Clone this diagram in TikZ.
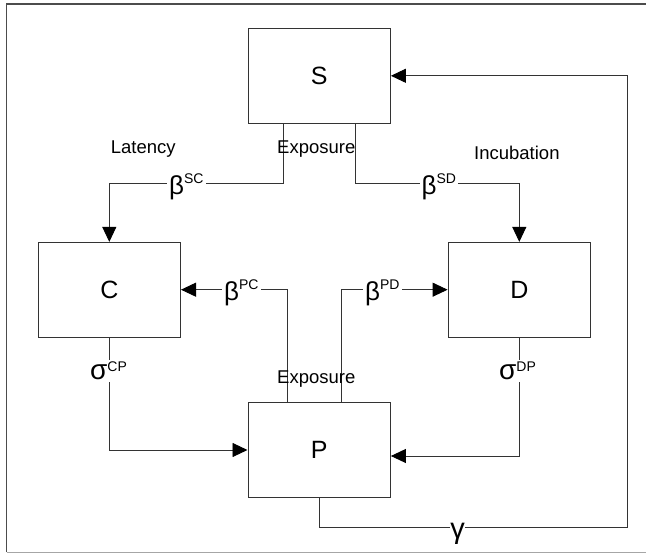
\documentclass[tikz,border=0pt]{standalone}
\usepackage{fontspec}
\setmainfont{Liberation Sans}
\usetikzlibrary{arrows.meta}
\newcommand{\bsup}[1]{{\fontsize{26}{26}\selectfont β}\raisebox{11pt}{\fontsize{14}{14}\selectfont #1}}
\newcommand{\ssup}[1]{{\fontsize{28}{28}\selectfont σ}\raisebox{7.6pt}{\fontsize{14}{14}\selectfont #1}}
\tikzset{
  comp/.style={draw=black!80, line width=0.9pt, minimum width=142.5pt, minimum height=94.7pt, inner sep=0pt, font=\fontsize{25}{25}\selectfont},
  link/.style={draw=black!80, line width=0.9pt},
  arr/.style={link, -{Triangle[length=15pt,width=14pt,color=black]}},
  rate/.style={fill=white, inner sep=2pt, anchor=base west},
  caption/.style={inner sep=0pt, anchor=base west, font=\fontsize{18.5}{18.5}\selectfont}
}
\begin{document}
\begin{tikzpicture}[x=1pt,y=-1pt]
\useasboundingbox (0,0) rectangle (646,553);
\fill[white] (0,0) rectangle (646,553);
% frame
\coordinate (fa) at (6.5,552);
\coordinate (fb) at (6.5,4);
\coordinate (fc) at (650,4);
\coordinate (fd) at (650,552);
\draw[black!70, line width=1.3pt] (fa) -- (fb) -- (fc);
\draw[black!35, line width=1pt] (fa) -- (fd);
% compartments
\node[comp] (S) at (319.2,75.8) {S};
\node[comp] (C) at (109.3,289.7) {C};
\node[comp] (D) at (519.3,289.7) {D};
\node[comp] (P) at (319.2,450) {P};
% helper points
\coordinate (sc) at (109.3,183.3);
\coordinate (sd) at (519.3,183.3);
\coordinate (g1) at (627,527.3);
% connectors
\draw[arr] ([xshift=-36pt]S.south) |- (sc) -- (C.north);
\draw[arr] ([xshift=36pt]S.south) |- (sd) -- (D.north);
\draw[arr] ([xshift=-31.5pt]P.north) |- (C.east);
\draw[arr] ([xshift=21.8pt]P.north) |- (D.west);
\draw[arr] (C.south) |- (P.west);
\draw[arr] (D.south) |- ([yshift=-6pt]P.east);
\draw[arr] (P.south) |- (g1) |- (S.east);
% rate labels
\node[rate] (lsc) at (167,194.5) {\bsup{SC}};
\node[rate] (lsd) at (419.5,194.5) {\bsup{SD}};
\node[rate] (lpc) at (222,301) {\bsup{PC}};
\node[rate] (lpd) at (363,301) {\bsup{PD}};
\node[rate] (lcp) at (88,379.5) {\ssup{CP}};
\node[rate] (ldp) at (497,379.5) {\ssup{DP}};
\node[fill=white, inner sep=0.6pt, anchor=base, font=\fontsize{29}{29}\selectfont] (lg) at (457.5,538) {γ};
% captions
\node[caption] (lat) at (110.7,153.3) {Latency};
\node[caption] (ex1) at (277,153.3) {Exposure};
\node[caption] (inc) at (474,160) {Incubation};
\node[caption] (ex2) at (277,384) {Exposure};
\end{tikzpicture}
\end{document}
